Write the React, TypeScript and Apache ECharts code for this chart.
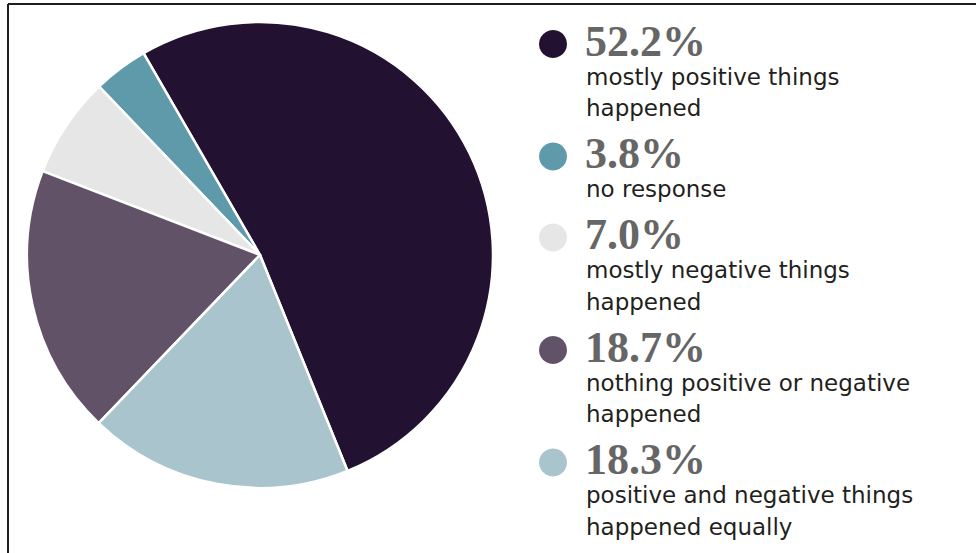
import React, { useEffect, useRef } from "react";
import * as echarts from "echarts";

// Legend / data order (counter-clockwise around the pie, starting from the dark slice)
const categories = [
  "mostly positive things\nhappened",
  "no response",
  "mostly negative things\nhappened",
  "nothing positive or negative\nhappened",
  "positive and negative things\nhappened equally",
];
const values = [52.2, 3.8, 7.0, 18.7, 18.3];
const colors = ["#231131", "#5f9aaa", "#e6e6e6", "#615268", "#a9c4cd"];

export default function App() {
  const ref = useRef<HTMLDivElement>(null);

  useEffect(() => {
    if (!ref.current) return;
    const chart = echarts.init(ref.current, undefined, { renderer: "svg" });

    const graphics: any[] = [
      {
        type: "line",
        shape: { x1: 8, y1: 4, x2: 976, y2: 4 },
        style: { stroke: "#1e1e1e", lineWidth: 2 },
        silent: true,
      },
      {
        type: "line",
        shape: { x1: 8, y1: 4, x2: 8, y2: 553 },
        style: { stroke: "#1e1e1e", lineWidth: 2 },
        silent: true,
      },
    ];

    let v = 41;
    const lineH = 31.5;
    categories.forEach((cat, i) => {
      const lines = cat.split("\n");
      graphics.push({
        type: "circle",
        shape: { cx: 553, cy: v + 3, r: 14 },
        style: { fill: colors[i] },
        silent: true,
      });
      graphics.push({
        type: "text",
        x: 585,
        y: v,
        style: {
          text: values[i].toFixed(1) + "%",
          font: 'bold 44px "Liberation Serif"',
          fill: "#666666",
          verticalAlign: "middle",
          align: "left",
        },
        silent: true,
      });
      lines.forEach((ln, k) => {
        graphics.push({
          type: "text",
          x: 586,
          y: v + 35.5 + k * lineH,
          style: {
            text: ln,
            font: '23px "DejaVu Sans"',
            fill: "#231f20",
            verticalAlign: "middle",
            align: "left",
          },
          silent: true,
        });
      });
      v = v + 35.5 + (lines.length - 1) * lineH + 45.5;
    });

    chart.setOption({
      animation: false,
      backgroundColor: "#ffffff",
      graphic: graphics,
      series: [
        {
          type: "pie",
          center: [260, 255],
          radius: [0, 233],
          startAngle: 120 - (values[0] / 100) * 360,
          clockwise: false,
          label: { show: false },
          labelLine: { show: false },
          emphasis: { disabled: true },
          itemStyle: { borderColor: "#ffffff", borderWidth: 2.5 },
          data: categories.map((c, i) => ({
            name: c.replace("\n", " "),
            value: values[i],
            itemStyle: { color: colors[i] },
          })),
        },
      ],
    });

    return () => chart.dispose();
  }, []);

  return (
    <div
      ref={ref}
      style={{ position: "fixed", left: 0, top: 0, width: 976, height: 553 }}
    />
  );
}
